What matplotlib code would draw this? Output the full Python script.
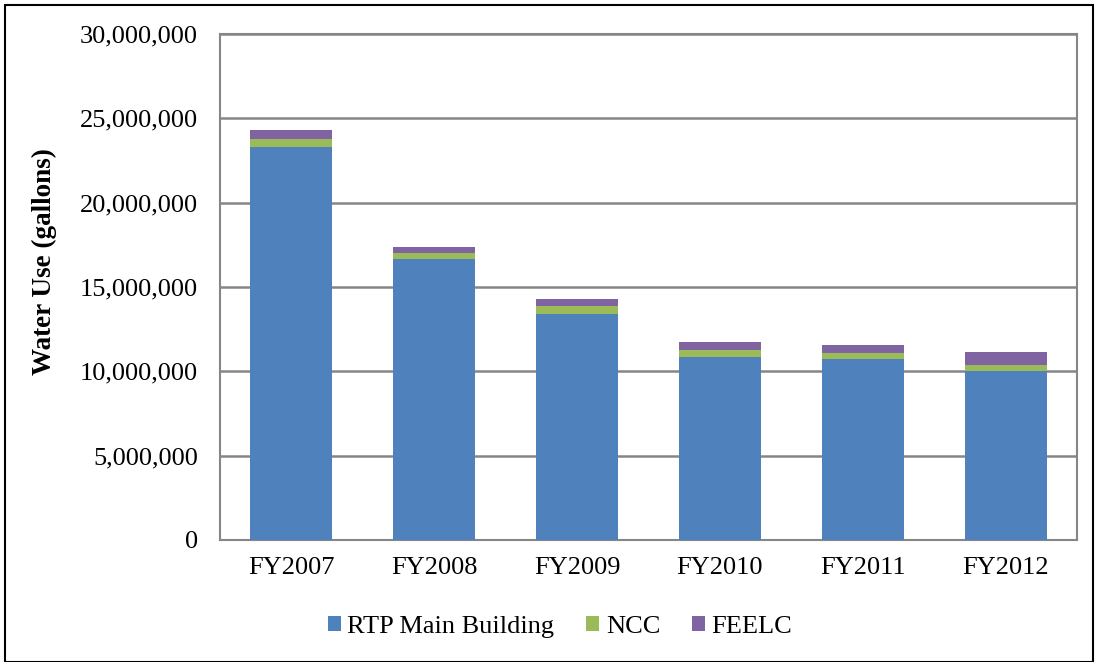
import matplotlib.pyplot as plt
import numpy as np
from matplotlib.ticker import FuncFormatter
from matplotlib.font_manager import FontProperties

years = ["FY2007", "FY2008", "FY2009", "FY2010", "FY2011", "FY2012"]
rtp_main = [23300000, 16640000, 13420000, 10870000, 10750000, 10040000]
ncc = [450000, 370000, 430000, 400000, 350000, 350000]
feelc = [530000, 360000, 440000, 490000, 460000, 750000]

colors = ["#4f81bd", "#9bbb59", "#8064a2"]

plt.rcParams["font.family"] = ["Liberation Serif", "DejaVu Serif"]

fig = plt.figure(figsize=(10.98, 6.62), dpi=100)
ax = fig.add_axes([220 / 1098, 1 - 540 / 662, (1077 - 220) / 1098, (540 - 34) / 662])

x = np.arange(len(years))
w = 0.575
rtp_main = np.array(rtp_main)
ncc = np.array(ncc)
feelc = np.array(feelc)
ax.bar(x, rtp_main, w, color=colors[0], label="RTP Main Building", zorder=3)
ax.bar(x, ncc, w, bottom=rtp_main, color=colors[1], label="NCC", zorder=3)
ax.bar(x, feelc, w, bottom=rtp_main + ncc, color=colors[2], label="FEELC", zorder=3)

ax.set_xlim(-0.5, len(years) - 0.5)
ax.set_ylim(0, 30000000)
ax.set_yticks(np.arange(0, 30000001, 5000000))
ax.yaxis.set_major_formatter(FuncFormatter(lambda v, p: f"{int(v):,}"))
ax.set_xticks(x)
ax.set_xticklabels(years)
ax.tick_params(axis="both", length=0, labelsize=19)
ax.tick_params(axis="y", pad=16)
ax.tick_params(axis="x", pad=12)
ax.grid(axis="y", color="#868686", linewidth=1.8, zorder=0)
for s in ax.spines.values():
    s.set_color("#868686")
    s.set_linewidth(1.5)

ax.set_ylabel("Water Use (gallons)", fontsize=19.5, fontweight="bold")
ax.yaxis.set_label_coords(-163 / 857, (540 - 262) / 506)

ax.legend(loc="center", bbox_to_anchor=(560 / 1098, 1 - 627 / 662), bbox_transform=fig.transFigure,
          ncol=3, frameon=False, prop=FontProperties(family="Liberation Serif", size=19),
          handlelength=0.5, handleheight=0.5, handletextpad=0.25, columnspacing=1.2)

fig.patches.append(plt.Rectangle((5 / 1098, 0), 1088 / 1098, 657 / 662, transform=fig.transFigure,
                                 fill=False, edgecolor="black", linewidth=1.5))

fig.savefig("out.png", dpi=100)
